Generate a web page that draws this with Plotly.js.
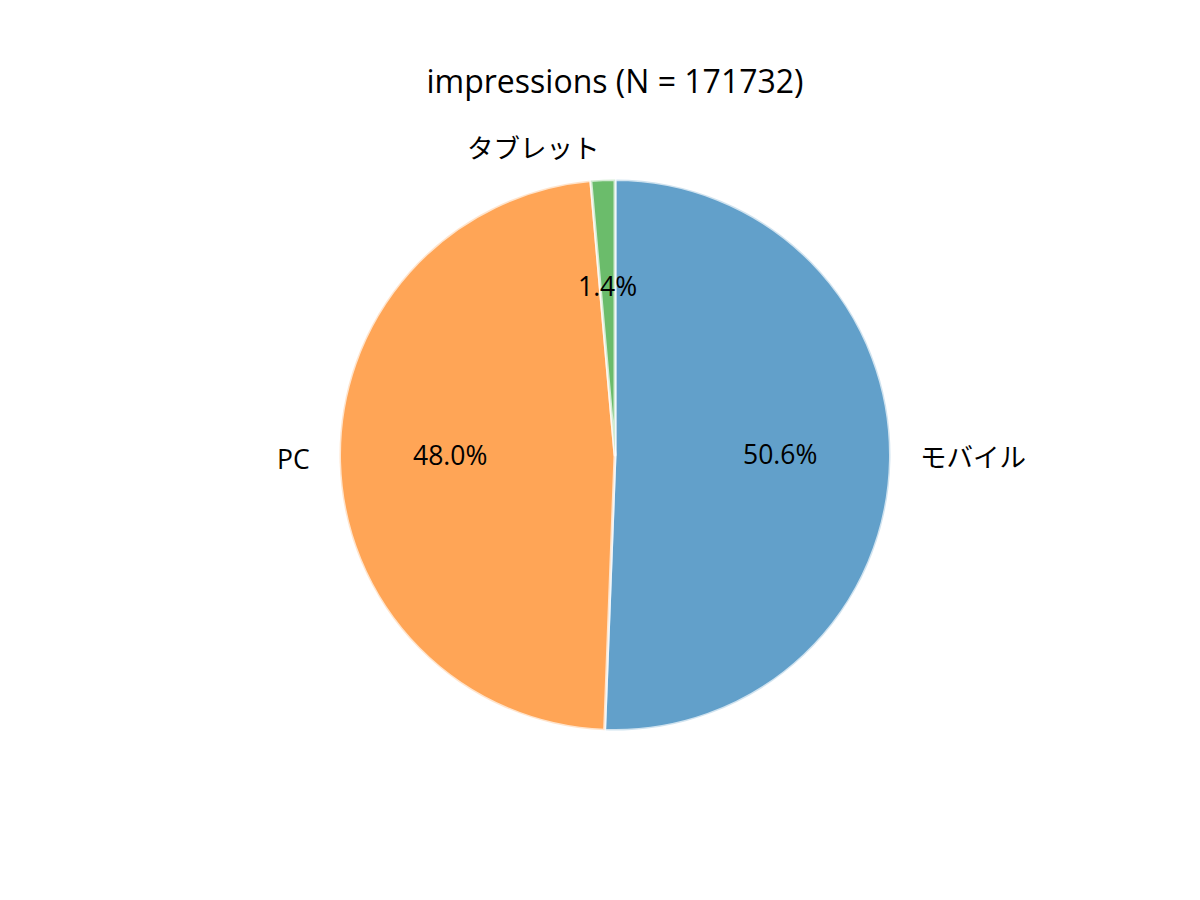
<!DOCTYPE html>
<html><head><meta charset="utf-8">
<script src="https://cdn.plot.ly/plotly-3.0.1.min.js"></script>
<style>html,body{margin:0;padding:0;background:#fff}</style>
</head><body>
<div id="chart" style="width:1200px;height:900px"></div>
<script>
const labels = ["モバイル", "PC", "タブレット"];
const values = [86897, 82431, 2404];
const colors = ["#62a0ca", "#ffa556", "#6bbc6b"];
const titleText = "impressions (N = 171732)";

const W = 1200, H = 900;
const cx = 615, cy = 455, R = 275.5;
const FONT = "Open Sans, Noto Sans CJK JP, Noto Sans, sans-serif";

const total = values.reduce((a, b) => a + b, 0);
const annotations = [];
let cum = 0;
values.forEach((v, i) => {
  const frac = v / total;
  const theta = (90 - 360 * (cum + frac / 2)) * Math.PI / 180;
  cum += frac;
  const c = Math.cos(theta), s = Math.sin(theta);
  const lx = cx + 1.1 * R * c, ly = cy - 1.1 * R * s;
  annotations.push({
    x: lx / W, y: 1 - ly / H, xref: "paper", yref: "paper",
    text: labels[i], showarrow: false,
    xanchor: c >= 0 ? "left" : "right", yanchor: "middle", yshift: 4,
    font: {family: FONT, size: 26.5, color: "#000"}
  });
  const px = cx + 0.6 * R * c, py = cy - 0.6 * R * s;
  annotations.push({
    x: px / W, y: 1 - py / H, xref: "paper", yref: "paper",
    text: (frac * 100).toFixed(1) + "%", showarrow: false,
    xanchor: "center", yanchor: "middle", yshift: 4,
    font: {family: FONT, size: 26.5, color: "#000"}
  });
});

const trace = {
  type: "pie",
  labels: labels,
  values: values,
  sort: false,
  direction: "clockwise",
  rotation: 0,
  textinfo: "none",
  hoverinfo: "label+percent",
  marker: {colors: colors, line: {color: "rgba(255,255,255,0.7)", width: 3}},
  domain: {x: [(cx - R) / W, (cx + R) / W], y: [1 - (cy + R) / H, 1 - (cy - R) / H]},
  showlegend: false
};

const layout = {
  width: W, height: H,
  margin: {l: 0, r: 0, t: 0, b: 0},
  paper_bgcolor: "#fff",
  title: {text: titleText, x: 615 / W, xanchor: "center", y: 1 - 82 / H, yref: "container", yanchor: "middle",
          font: {family: FONT, size: 32, color: "#000"}},
  annotations: annotations,
  showlegend: false
};

Plotly.newPlot("chart", [trace], layout, {displayModeBar: false, staticPlot: true});
</script>
</body></html>
